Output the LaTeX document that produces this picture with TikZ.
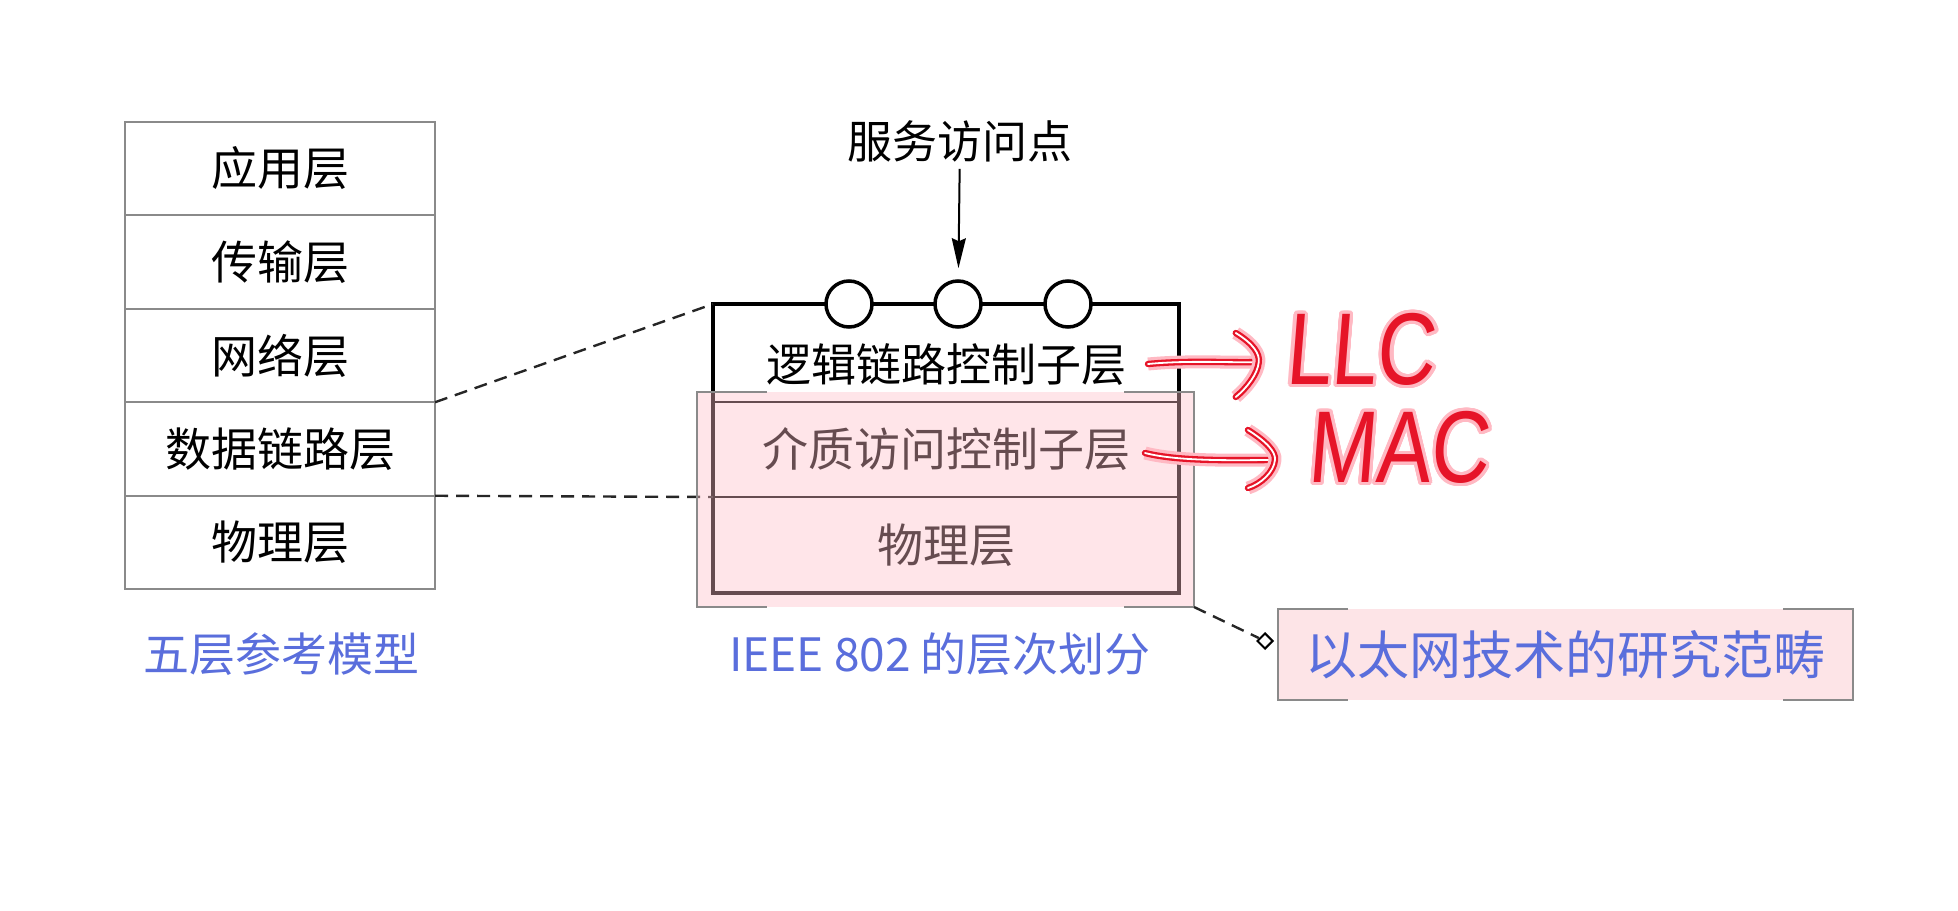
\documentclass[tikz,border=0pt]{standalone}
\usepackage{fontspec}
\usepackage{contour}
\setmainfont{Noto Sans CJK SC}
\newfontfamily\neonfont{Liberation Sans}[FakeStretch=0.8, FakeSlant=0.08]
\usetikzlibrary{arrows.meta, positioning, shapes.geometric}
\definecolor{LabelBlue}{RGB}{90,110,220}
\definecolor{BoxGray}{RGB}{138,138,138}
\definecolor{FieldPink}{RGB}{253,228,231}
\definecolor{OverPink}{RGB}{255,190,200}
\definecolor{NeonRed}{RGB}{230,20,40}
\definecolor{NeonGlow}{RGB}{255,185,195}
\contourlength{1.6pt}
\contournumber{32}
\tikzset{
  Layer1/.style = {
    draw = BoxGray, line width = 1pt, outer sep = 0pt, inner sep = 0pt,
    minimum width = 155pt, minimum height = 46.75pt,
    font = \fontsize{23}{23}\selectfont,
  },
  Row1/.style = {
    outer sep = 0pt, inner sep = 0pt, minimum width = 233pt,
    font = \fontsize{23}{23}\selectfont,
  },
  Sub1/.style = {font = \fontsize{22.5}{22.5}\selectfont},
  Label1/.style = {text = LabelBlue, font = \fontsize{23}{23}\selectfont},
  Frame1/.style = {draw, line width = 1.75pt},
  Sap1/.style = {
    circle, draw, fill = white, line width = 1.75pt,
    minimum size = 23pt, inner sep = 0pt,
  },
  Arrow1/.style = {
    draw, line width = 1pt,
    -{Stealth[length = 15pt, width = 7pt, inset = 1.5pt]},
  },
  Dash1/.style = {
    draw = black!85, line width = 1.2pt, dash pattern = on 6.5pt off 4pt,
  },
  Hl1/.style = {
    draw = none, fill = OverPink, fill opacity = 0.4, outer sep = 0pt,
    minimum width = 248.5pt, minimum height = 107.5pt,
  },
  Field1/.style = {
    fill = FieldPink, outer sep = 0pt, text = LabelBlue,
    minimum width = 287.5pt, minimum height = 45.5pt,
    font = \fontsize{26}{26}\selectfont,
  },
  Bracket1/.style = {draw = BoxGray, line width = 1pt},
  Diamond1/.style = {
    diamond, draw, fill = white, line width = 1pt,
    minimum size = 8pt, inner sep = 0pt, aspect = 1,
  },
  Neon1/.style = {
    draw = NeonRed, line width = 3.2pt, line cap = round, line join = round,
    preaction = {draw = NeonGlow, line width = 6.5pt},
    postaction = {draw = white, line width = 0.9pt},
  },
  Neon2/.style = {
    inner sep = 0pt, text = NeonRed,
    font = \neonfont\fontsize{51}{51}\selectfont,
  },
}

\begin{document}
\begin{tikzpicture}[x = 0.5pt, y = -0.5pt]
  \useasboundingbox (0,0) rectangle (1958,910);

  % five layer reference model
  \node[Layer1] (app) at (280,168.5) {应用层};
  \node[Layer1, below = 0pt of app] (trans) {传输层};
  \node[Layer1, below = 0pt of trans] (net) {网络层};
  \node[Layer1, below = 0pt of net] (link) {数据链路层};
  \node[Layer1, below = 0pt of link] (phys) {物理层};
  \node[Label1] (fivename) at (281,654) {五层参考模型};

  % IEEE 802 layers
  \node[Row1, minimum height = 49pt] (llc) at (946,353) {};
  \node[Row1, minimum height = 47.5pt, below = 0pt of llc] (mac) {介质访问控制子层};
  \node[Row1, minimum height = 48pt, below = 0pt of mac] (phy) {物理层};
  \node[Sub1] (llcname) at ([yshift = -6pt]llc.center) {逻辑链路控制子层};
  \draw[line width = 0.75pt] (mac.north west) -- (mac.north east);
  \draw[line width = 0.75pt] (phy.north west) -- (phy.north east);
  \draw[Frame1] (llc.north west) rectangle (phy.south east);
  \foreach \i/\x in {1/849, 2/958, 3/1068}
    \node[Sap1] (sap\i) at (\x,304) {};
  \node[Sub1] (sapname) at (960,141) {服务访问点};
  \draw[Arrow1, shorten > = 5.5pt] (sapname) -- (sap2);
  \node[Label1] (ieeename) at (940,654) {IEEE 802 的层次划分};

  \draw[Dash1] (link.north east) -- (llc.north west);
  \draw[Dash1] (phys.north east) -- (phy.north west);

  % highlighted scope
  \node[Hl1] (hl) at (945.5,499.5) {};
  \node[Field1] (field) at (1565.5,654.5) {以太网技术的研究范畴};
  \foreach \n in {hl, field} {
    \draw[Bracket1] ([xshift = 35pt]\n.north west) -- (\n.north west)
      -- (\n.south west) -- ([xshift = 35pt]\n.south west);
    \draw[Bracket1] ([xshift = -35pt]\n.north east) -- (\n.north east)
      -- (\n.south east) -- ([xshift = -35pt]\n.south east);
  }
  \node[Diamond1] (dia) at (1265,641) {};
  \draw[Dash1] (hl.south east) -- (dia);

  % handwritten notes
  \node[Neon2] (llcnote) at (1360,351) {\contour{NeonGlow}{LLC}};
  \node[Neon2] (macnote) at (1398,449) {\contour{NeonGlow}{MAC}};
  \coordinate (llcstart) at (1148,364);
  \coordinate (llctip) at ([xshift = -13pt, yshift = -5.5pt]llcnote.west);
  \coordinate (macstart) at (1145,453);
  \coordinate (mactip) at ([xshift = -16pt, yshift = -5.5pt]macnote.west);
  \draw[Neon1] (llcstart) .. controls (1190,360) and (1230,363) .. (llctip);
  \draw[Neon1] ([shift = {(-23,-29)}]llctip)
    .. controls ([shift = {(-5,-18)}]llctip) and ([shift = {(1,-8)}]llctip) .. (llctip)
    .. controls ([shift = {(-1,12)}]llctip) and ([shift = {(-12,26)}]llctip) .. ([shift = {(-23,35)}]llctip);
  \draw[Neon1] (macstart) .. controls (1180,462) and (1240,460) .. (mactip);
  \draw[Neon1] ([shift = {(-27,-30)}]mactip)
    .. controls ([shift = {(-8,-18)}]mactip) and ([shift = {(1,-8)}]mactip) .. (mactip)
    .. controls ([shift = {(-1,12)}]mactip) and ([shift = {(-14,24)}]mactip) .. ([shift = {(-27,28)}]mactip);
\end{tikzpicture}
\end{document}
